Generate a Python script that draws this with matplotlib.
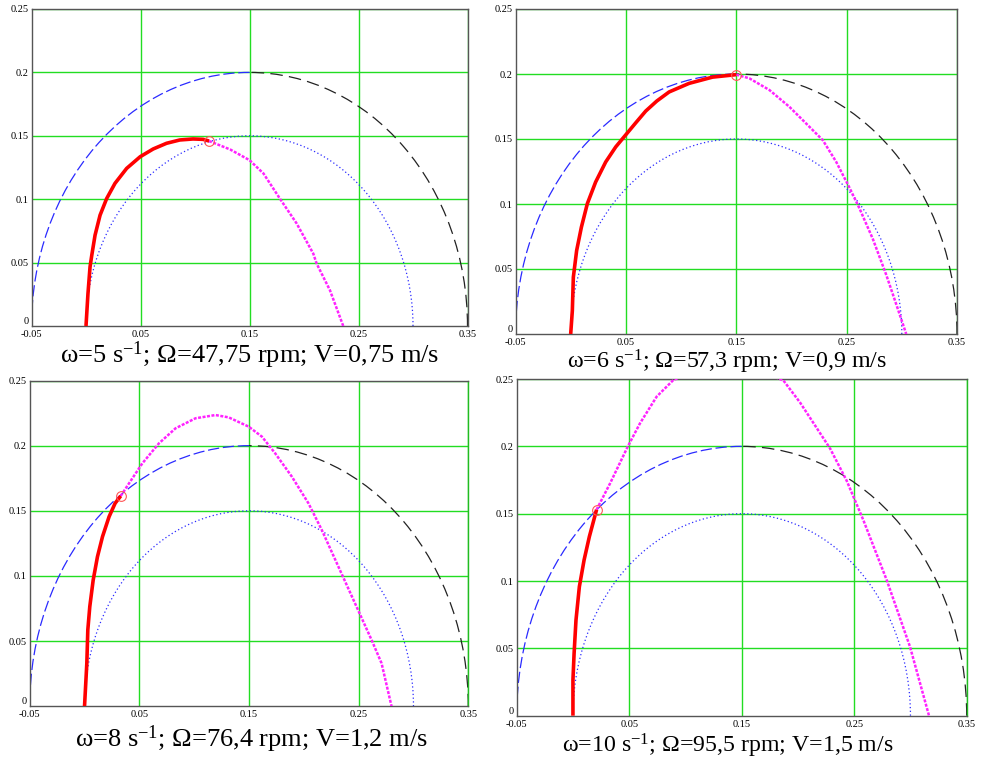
import numpy as np
import matplotlib.pyplot as plt
from matplotlib.patches import Arc

plt.rcParams['font.family'] = ['Liberation Serif', 'DejaVu Serif']
plt.rcParams['mathtext.fontset'] = 'custom'
plt.rcParams['mathtext.rm'] = 'Liberation Serif'
plt.rcParams['mathtext.it'] = 'Liberation Serif:italic'
plt.rcParams['axes.unicode_minus'] = False

# Axis ticks (same for every panel)
x_ticks = [-0.05, 0.05, 0.15, 0.25, 0.35]
x_labels = ['-0.05', '0.05', '0.15', '0.25', '0.35']
y_ticks = [0, 0.05, 0.1, 0.15, 0.2, 0.25]
y_labels = ['0', '0.05', '0.1', '0.15', '0.2', '0.25']

# Rotor circles
centre = (0.15, 0.0)
r_outer = 0.2
r_inner = 0.15

captions = [
    'ω=5 s$^{-1}$; Ω=47,75 rpm; V=0,75 m/s',
    'ω=6 s$^{-1}$; Ω=57,3 rpm; V=0,9 m/s',
    'ω=8 s$^{-1}$; Ω=76,4 rpm; V=1,2 m/s',
    'ω=10 s$^{-1}$; Ω=95,5 rpm; V=1,5 m/s',
]

# Red: path on the rotor, magenta: free flight after release
red_x1 = [0.0, 0.0018, 0.0037, 0.0053, 0.0083, 0.0129, 0.019, 0.0266, 0.0373, 0.0497, 0.0616, 0.0739,
          0.086, 0.0982, 0.1074, 0.1129]
red_y1 = [0.0, 0.0255, 0.0466, 0.0558, 0.0716, 0.0874, 0.1006, 0.1125, 0.1243, 0.1335, 0.1396, 0.1441,
          0.1467, 0.1475, 0.1472, 0.1459]
mag_x1 = [0.1129, 0.1323, 0.15, 0.1628, 0.178, 0.1933, 0.2085, 0.2116, 0.2238, 0.236]
mag_y1 = [0.1459, 0.1392, 0.1308, 0.1203, 0.1003, 0.0808, 0.0571, 0.0492, 0.0282, 0.0]

red_x2 = [0.0, 0.0015, 0.0024, 0.0054, 0.0097, 0.0151, 0.0226, 0.0317, 0.0408, 0.0492, 0.059, 0.068,
          0.078, 0.0892, 0.1073, 0.1285, 0.15]
red_y2 = [0.0, 0.018, 0.0437, 0.0642, 0.0822, 0.1003, 0.1169, 0.1323, 0.1439, 0.1525, 0.1625, 0.1715,
          0.1792, 0.1862, 0.1928, 0.1976, 0.1995]
mag_x2 = [0.15, 0.1618, 0.18, 0.1981, 0.2163, 0.2284, 0.2405, 0.2526, 0.2617, 0.2738, 0.2859, 0.2949, 0.304]
mag_y2 = [0.1995, 0.1967, 0.1877, 0.1748, 0.1594, 0.1491, 0.1325, 0.1125, 0.0965, 0.073, 0.0455, 0.023, 0.0]

red_x3 = [0.0, 0.0021, 0.003, 0.0048, 0.0079, 0.0118, 0.0164, 0.0224, 0.0279, 0.033]
red_y3 = [0.0, 0.033, 0.0586, 0.0765, 0.0969, 0.1148, 0.1302, 0.1455, 0.1558, 0.1614]
mag_x3 = [0.033, 0.0406, 0.0527, 0.0679, 0.083, 0.1012, 0.1194, 0.1315, 0.1497, 0.1618, 0.1739, 0.1891,
          0.2042, 0.2164, 0.2315, 0.2467, 0.2618, 0.2709, 0.28]
mag_y3 = [0.1614, 0.1711, 0.1864, 0.2018, 0.2133, 0.221, 0.2235, 0.2217, 0.2146, 0.2069, 0.1941, 0.1762,
          0.1558, 0.1353, 0.1072, 0.079, 0.0509, 0.033, 0.0]

red_x4 = [0.0, 0.0, 0.001, 0.0027, 0.0057, 0.0099, 0.0146, 0.021]
red_y4 = [0.0, 0.0265, 0.046, 0.071, 0.0958, 0.1156, 0.133, 0.153]
mag_x4 = [0.021, 0.033, 0.0487, 0.0596, 0.0744, 0.0893, 0.138, 0.187, 0.2019, 0.2285, 0.2433, 0.258,
          0.2789, 0.2996, 0.3165]
mag_y4 = [0.153, 0.1725, 0.1998, 0.2171, 0.2369, 0.2493, 0.265, 0.249, 0.2325, 0.1985, 0.1745, 0.1455,
          0.1007, 0.0512, 0.0]

red_x = [red_x1, red_x2, red_x3, red_x4]
red_y = [red_y1, red_y2, red_y3, red_y4]
mag_x = [mag_x1, mag_x2, mag_x3, mag_x4]
mag_y = [mag_y1, mag_y2, mag_y3, mag_y4]

W, H = 982, 760
fig = plt.figure(figsize=(W / 100, H / 100), dpi=100)

# panel boxes in pixels: left, top, right, bottom
boxes = [(31.5, 9, 467.5, 326), (515.5, 9, 957, 334),
         (29.7, 380.5, 468.3, 706.3), (516.7, 379, 966.7, 715.7)]
cap_pos = [(250, 355), (727, 362), (251, 739), (728, 746)]
cap_size = [19, 17.3, 19, 17.2]

for i in range(4):
    l, t, r, b = boxes[i]
    ax = fig.add_axes([l / W, 1 - b / H, (r - l) / W, (b - t) / H])
    ax.set_xlim(-0.05, 0.35)
    ax.set_ylim(0, 0.25)
    ax.set_xticks(x_ticks)
    ax.set_xticklabels(x_labels)
    ax.set_yticks(y_ticks)
    ax.set_yticklabels(y_labels)
    ax.tick_params(length=0, labelsize=7.5)
    ax.tick_params(axis='x', pad=3)
    ax.tick_params(axis='y', pad=2)
    ax.get_yticklabels()[0].set_va('bottom')
    for x in x_ticks[1:]:
        ax.axvline(x, color='#22dd22', lw=1.0, zorder=1)
    for y in y_ticks[1:]:
        ax.axhline(y, color='#22dd22', lw=1.0, zorder=1)
    for s in ax.spines.values():
        s.set_color('#555555')
        s.set_linewidth(1.0)
    if i >= 2:
        ax.spines['right'].set_color('#22bb22')

    # circles
    ax.add_patch(Arc(centre, 2 * r_inner, 2 * r_inner, theta1=0, theta2=180,
                     color='#2a2aff', lw=0.9, linestyle=(0, (1, 2)), zorder=2))
    ax.add_patch(Arc(centre, 2 * r_outer, 2 * r_outer, theta1=90, theta2=180,
                     color='#2a2aff', lw=0.9, linestyle=(0, (9, 3)), zorder=2))
    ax.add_patch(Arc(centre, 2 * r_outer, 2 * r_outer, theta1=0, theta2=90,
                     color='#222222', lw=0.9, linestyle=(0, (10, 5)), zorder=2))

    ax.plot(mag_x[i], mag_y[i], color='#ff22ff', lw=1.8, linestyle=(0, (1.2, 0.6)), zorder=3)
    ax.plot(red_x[i], red_y[i], color='#ff0000', lw=2.6, solid_capstyle='butt',
            solid_joinstyle='round', zorder=4)
    ax.plot(red_x[i][-1], red_y[i][-1], 'o', mfc='none', mec='#ff5555', ms=7, mew=0.8, zorder=5)

    fig.text(cap_pos[i][0] / W, 1 - cap_pos[i][1] / H, captions[i],
             ha='center', va='center', fontsize=cap_size[i])

fig.savefig('out.png', dpi=100)
